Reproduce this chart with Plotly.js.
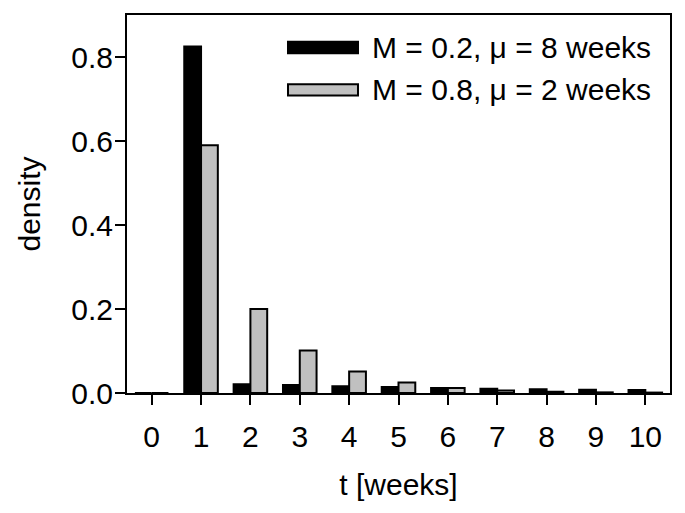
<!DOCTYPE html>
<html>
<head>
<meta charset="utf-8">
<script src="https://cdn.plot.ly/plotly-3.0.1.min.js"></script>
<style>html,body{margin:0;padding:0;background:#fff;}#chart{width:685px;height:513px;}</style>
</head>
<body>
<div id="chart"></div>
<script>
const weeks = [0, 1, 2, 3, 4, 5, 6, 7, 8, 9, 10];
const densityM02 = [0, 0.825, 0.021, 0.019, 0.016, 0.014, 0.012, 0.010, 0.009, 0.008, 0.007];
const densityM08 = [0, 0.59, 0.20, 0.101, 0.051, 0.025, 0.012, 0.006, 0.003, 0.0015, 0.001];
const seriesNames = ["M = 0.2, μ = 8 weeks", "M = 0.8, μ = 2 weeks"];
const seriesColors = ["#000000", "#c0c0c0"];
const yTicks = [0, 0.2, 0.4, 0.6, 0.8];
const yTickText = ["0.0", "0.2", "0.4", "0.6", "0.8"];

const font = {family: "Liberation Sans, Arial, sans-serif", size: 30, color: "#000"};

const traces = [densityM02, densityM08].map((vals, i) => ({
  type: "bar",
  x: weeks,
  y: vals,
  name: seriesNames[i],
  marker: {color: seriesColors[i], line: {color: "#000", width: 2}},
  showlegend: false,
  hoverinfo: "x+y"
}));

// custom legend (wide swatches) in paper coordinates
const legendRows = [0.914, 0.802];
const shapes = legendRows.map((yc, i) => ({
  type: "rect", xref: "paper", yref: "paper",
  x0: 0.2965, x1: 0.4254, y0: yc - 0.015, y1: yc + 0.015,
  fillcolor: seriesColors[i], line: {color: "#000", width: 2}
}));
const annotations = legendRows.map((yc, i) => ({
  xref: "paper", yref: "paper", x: 0.447, y: yc,
  xanchor: "left", yanchor: "middle", showarrow: false,
  text: seriesNames[i], font: font
}));

const layout = {
  width: 685, height: 513,
  margin: {l: 127, r: 15, t: 15, b: 120},
  paper_bgcolor: "#fff", plot_bgcolor: "#fff",
  font: font,
  barmode: "group",
  bargap: 0.32,
  bargroupgap: 0,
  showlegend: false,
  xaxis: {
    range: [-0.5, 10.5],
    tickmode: "array", tickvals: weeks, ticktext: weeks.map(String),
    ticks: "outside", ticklen: 10, tickwidth: 2, tickcolor: "#000",
    showline: true, linewidth: 2, linecolor: "#000", mirror: true,
    showgrid: false, zeroline: false,
    tickfont: font,
    ticklabelstandoff: 6,
    title: {text: "t [weeks]", font: font, standoff: 22}
  },
  yaxis: {
    range: [0, 0.9],
    tickmode: "array", tickvals: yTicks, ticktext: yTickText,
    ticks: "outside", ticklen: 10, tickwidth: 2, tickcolor: "#000",
    showline: true, linewidth: 2, linecolor: "#000", mirror: true,
    showgrid: false, zeroline: false,
    tickfont: font,
    ticklabelstandoff: -4,
    title: {text: "density", font: font, standoff: 22}
  },
  shapes: shapes,
  annotations: annotations
};

Plotly.newPlot("chart", traces, layout, {displayModeBar: false, staticPlot: true});
</script>
</body>
</html>
